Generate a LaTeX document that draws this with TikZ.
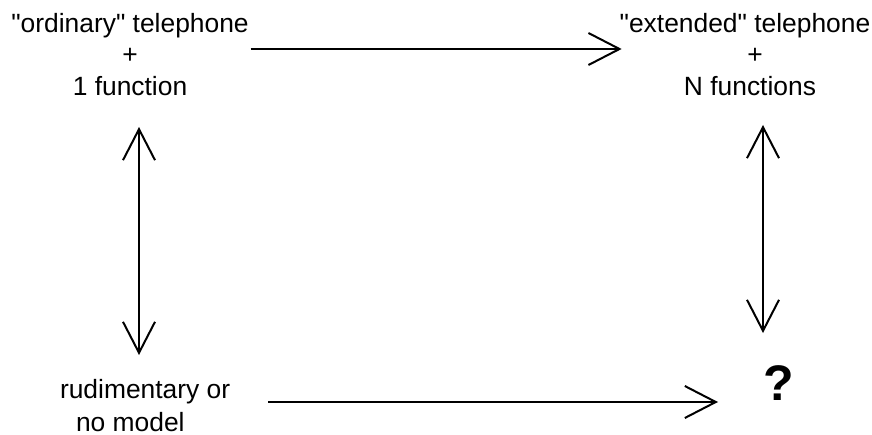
\documentclass[tikz,border=0pt]{standalone}
\usepackage{fontspec}
\setmainfont{Liberation Sans}[Ligatures=TeXOff]
\usetikzlibrary{arrows.meta}
\begin{document}
\begin{tikzpicture}[x=1pt,y=-1pt,
  lbl/.style={inner sep=0pt, outer sep=0pt, font=\fontsize{26.4}{31.5}\selectfont},
  arr/.style={line width=2pt, -{Straight Barb[length=31pt,width=32pt]}},
  darr/.style={line width=2pt, {Straight Barb[length=31pt,width=32pt]}-{Straight Barb[length=31pt,width=32pt]}}]
\useasboundingbox (0,0) rectangle (872,435);
\node[lbl, align=center, anchor=north] (lt) at (130,13) {"ordinary" telephone\\+\\1 function};
\node[lbl, align=center, anchor=north] (rt) at (745,13) {"extended" telephone\\\hspace*{20pt}+\\\hspace*{10pt}N functions};
\node[lbl, align=left, anchor=north west, font=\fontsize{26.4}{33}\selectfont] (bl) at (60,379) {rudimentary or\\\hspace*{16pt}no model};
\node[inner sep=0pt, anchor=base, font=\fontsize{50}{50}\selectfont\bfseries] (q) at (779,400) {?};
\draw[arr] ([shift={(2,36)}]lt.north east) -- ([shift={(2,36)}]rt.north west);
\draw[darr] ([shift={(9,114)}]lt.north) -- ([shift={(79,-24)}]bl.north west);
\draw[darr] ([shift={(18,112)}]rt.north) -- ([shift={(-16,-67)}]q.base);
\draw[arr] ([shift={(208,23)}]bl.north west) -- ([shift={(-61,2)}]q.base);
\end{tikzpicture}
\end{document}
